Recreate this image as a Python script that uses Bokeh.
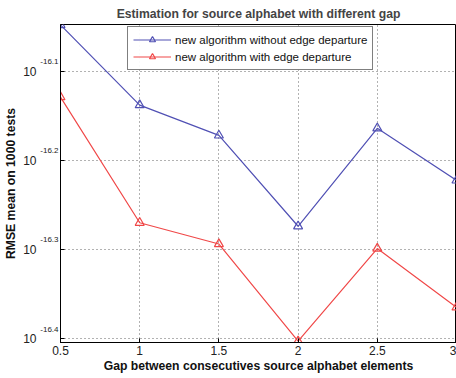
from bokeh.plotting import figure
from bokeh.models import (FixedTicker, CustomJSTickFormatter, Range1d, Legend,
                          LegendItem, LogAxis)
from bokeh.embed import file_html
from bokeh.resources import INLINE

gap = [0.5, 1.0, 1.5, 2.0, 2.5, 3.0]
rmse_without_edge = [8.954e-17, 7.278e-17, 6.730e-17, 5.321e-17, 6.855e-17, 5.991e-17]
rmse_with_edge = [7.430e-17, 5.370e-17, 5.082e-17, 3.954e-17, 5.023e-17, 4.315e-17]
y_ticks = [10 ** -16.4, 10 ** -16.3, 10 ** -16.2, 10 ** -16.1]
y_tick_base = "10"
x_ticks = [0.5, 1, 1.5, 2, 2.5, 3]

FONT = "Liberation Sans"
BLUE = "#5050b4"
RED = "#f04848"

p = figure(width=456, height=378, y_axis_type="log", output_backend="svg",
           toolbar_location=None,
           x_range=Range1d(0.5, 3.0), y_range=Range1d(10 ** -16.4045, 10 ** -16.0475),
           min_border_left=60, min_border_right=0, min_border_top=0, min_border_bottom=36)

p.title.text = "Estimation for source alphabet with different gap"
p.title.align = "center"
p.title.text_font = FONT
p.title.text_font_size = "12.2px"
p.title.text_font_style = "bold"
p.title.text_line_height = 1.2
p.title.standoff = 8
p.title.offset = 0

p.outline_line_color = "black"
p.outline_line_width = 1
p.background_fill_color = "white"
p.border_fill_color = "white"

# x axis
xa = p.xaxis[0]
xa.ticker = FixedTicker(ticks=x_ticks)
xa.axis_line_color = "black"
xa.major_tick_line_color = "black"
xa.major_tick_in = 4
xa.major_tick_out = 0
xa.minor_tick_line_color = None
xa.major_label_text_font = FONT
xa.major_label_text_font_size = "12px"
xa.major_label_text_color = "#222222"
xa.major_label_standoff = 3
xa.axis_label = "Gap between consecutives source alphabet elements"
xa.axis_label_text_font = FONT
xa.axis_label_text_font_size = "12.2px"
xa.axis_label_text_font_style = "bold"
xa.axis_label_text_color = "#111111"
xa.axis_label_standoff = 1

# inner y axis: exponents (superscript part of 10^-16.x)
ya = p.yaxis[0]
ya.ticker = FixedTicker(ticks=y_ticks)
ya.formatter = CustomJSTickFormatter(
    code="return (Math.log10(tick)).toFixed(1) + '\\n\\u00a0';")
ya.axis_line_color = "black"
ya.major_tick_line_color = "black"
ya.major_tick_in = 4
ya.major_tick_out = 0
ya.minor_tick_line_color = None
ya.major_label_text_font = FONT
ya.major_label_text_font_size = "8px"
ya.major_label_text_line_height = 2.1
ya.major_label_text_color = "#222222"
ya.major_label_standoff = 2

# outer y axis: base "10" and the axis title
yb = LogAxis(ticker=FixedTicker(ticks=y_ticks),
             formatter=CustomJSTickFormatter(code="return '%s';" % y_tick_base))
yb.axis_line_color = None
yb.major_tick_line_color = None
yb.major_tick_in = 0
yb.major_tick_out = 0
yb.minor_tick_line_color = None
yb.minor_tick_in = 0
yb.minor_tick_out = 0
yb.major_label_text_font = FONT
yb.major_label_text_font_size = "12px"
yb.major_label_text_color = "#222222"
yb.major_label_standoff = 1
yb.axis_label = "RMSE mean on 1000 tests"
yb.axis_label_text_font = FONT
yb.axis_label_text_font_size = "12.2px"
yb.axis_label_text_font_style = "bold"
yb.axis_label_text_color = "#111111"
yb.axis_label_standoff = 2
p.add_layout(yb, "left")

for g in (p.xgrid[0], p.ygrid[0]):
    g.grid_line_color = "#555555"
    g.grid_line_dash = "1 3"
    g.grid_line_width = 1
    g.grid_line_alpha = 0.9
p.ygrid.ticker = FixedTicker(ticks=y_ticks)
p.xgrid.ticker = FixedTicker(ticks=x_ticks)

l1 = p.line(gap, rmse_without_edge, line_color=BLUE, line_width=1.2)
m1 = p.scatter(gap, rmse_without_edge, marker="triangle", size=9, line_color=BLUE,
               fill_color=None, line_width=1.2)
l2 = p.line(gap, rmse_with_edge, line_color=RED, line_width=1.2)
m2 = p.scatter(gap, rmse_with_edge, marker="triangle", size=9, line_color=RED,
               fill_color=None, line_width=1.2)

legend = Legend(items=[
    LegendItem(label="new algorithm without edge departure", renderers=[l1, m1]),
    LegendItem(label="new algorithm with edge departure", renderers=[l2, m2]),
], location=(67, 272))
legend.border_line_color = "black"
legend.border_line_width = 1
legend.label_text_font = FONT
legend.label_text_font_size = "11.5px"
legend.label_text_color = "#111111"
legend.glyph_width = 38
legend.glyph_height = 15
legend.label_height = 15
legend.spacing = 2
legend.padding = 5
legend.margin = 0
legend.label_standoff = 4
p.add_layout(legend)

open("out.html", "w").write(file_html(p, INLINE))
